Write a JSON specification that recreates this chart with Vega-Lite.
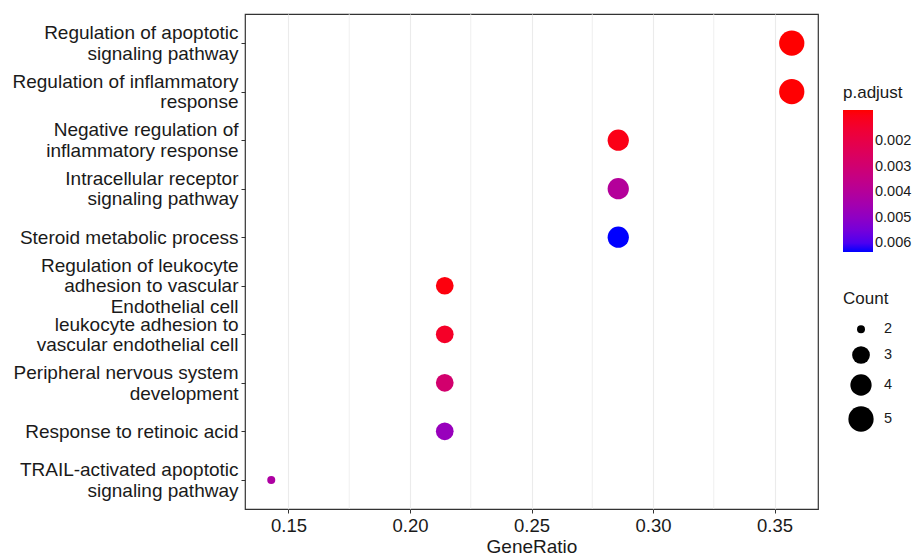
{
  "$schema": "https://vega.github.io/schema/vega-lite/v6.json",
  "autosize": {"type": "none"},
  "width": 573,
  "height": 495,
  "padding": {"left": 245, "top": 14, "right": 102, "bottom": 51},
  "background": "white",
  "config": {
    "font": "Liberation Sans",
    "view": {"stroke": "#333333", "strokeWidth": 1.2},
    "axis": {"gridColor": "#EBEBEB", "gridWidth": 1.1, "domain": false, "tickColor": "#333333", "tickSize": 4, "labelColor": "#1A1A1A", "titleColor": "#1A1A1A", "titleFontWeight": "normal"},
    "legend": {"titleFontWeight": "normal", "titleColor": "#1A1A1A", "labelColor": "#1A1A1A"}
  },
  "data": {"values": [
    {"Description": "Regulation of apoptotic\nsignaling pathway", "GeneRatio": 0.3571, "Count": 5, "padjust": 0.00078},
    {"Description": "Regulation of inflammatory\nresponse", "GeneRatio": 0.3571, "Count": 5, "padjust": 0.0008},
    {"Description": "Negative regulation of\ninflammatory response", "GeneRatio": 0.2857, "Count": 4, "padjust": 0.001},
    {"Description": "Intracellular receptor\nsignaling pathway", "GeneRatio": 0.2857, "Count": 4, "padjust": 0.004},
    {"Description": "Steroid metabolic process", "GeneRatio": 0.2857, "Count": 4, "padjust": 0.00635},
    {"Description": "Regulation of leukocyte\nadhesion to vascular\nEndothelial cell", "GeneRatio": 0.2143, "Count": 3, "padjust": 0.0009},
    {"Description": "leukocyte adhesion to\nvascular endothelial cell", "GeneRatio": 0.2143, "Count": 3, "padjust": 0.0013},
    {"Description": "Peripheral nervous system\ndevelopment", "GeneRatio": 0.2143, "Count": 3, "padjust": 0.0029},
    {"Description": "Response to retinoic acid", "GeneRatio": 0.2143, "Count": 3, "padjust": 0.0048},
    {"Description": "TRAIL-activated apoptotic\nsignaling pathway", "GeneRatio": 0.1429, "Count": 2, "padjust": 0.0042}
  ]},
  "layer": [
    {
      "data": {"values": [{"minor": 0.175}, {"minor": 0.225}, {"minor": 0.275}, {"minor": 0.325}]},
      "mark": {"type": "rule", "color": "#EBEBEB", "strokeWidth": 0.8},
      "encoding": {"x": {"field": "minor", "type": "quantitative"}}
    },
    {
      "mark": {"type": "circle", "opacity": 1},
      "encoding": {
        "x": {
          "field": "GeneRatio", "type": "quantitative",
          "scale": {"domain": [0.1321, 0.3679], "nice": false, "zero": false},
          "axis": {"values": [0.15, 0.2, 0.25, 0.3, 0.35], "format": ".2f", "title": "GeneRatio", "labelFontSize": 18.5, "titleFontSize": 19, "labelPadding": 3, "titlePadding": 3}
        },
        "y": {
          "field": "Description", "type": "nominal", "sort": null,
          "scale": {"type": "point", "padding": 0.6},
          "axis": {
            "title": null, "labelFontSize": 19, "labelLineHeight": 20.5,
            "labelExpr": "split(datum.label, '\\n')", "labelPadding": 3, "labelLimit": 300,
            "labelOffset": {
              "condition": [
                {"test": "length(split(datum.value, '\\n')) == 3", "value": -20.5},
                {"test": "length(split(datum.value, '\\n')) == 2", "value": -10.25}
              ],
              "value": 0
            }
          }
        },
        "color": {
          "field": "padjust", "type": "quantitative",
          "scale": {"domain": [0.00635, 0.00078], "range": ["#0000FF", "#FF0000"], "interpolate": "lab", "nice": false, "zero": false},
          "legend": {"title": "p.adjust", "orient": "none", "legendX": 598, "legendY": 71, "gradientLength": 142, "gradientThickness": 30, "values": [0.002, 0.003, 0.004, 0.005, 0.006], "format": ".3f", "titleFontSize": 17, "labelFontSize": 14.5, "gradientStrokeWidth": 0, "titlePadding": 8}
        },
        "size": {
          "field": "Count", "type": "quantitative",
          "scale": {"domain": [2, 3, 4, 5], "range": [64, 314, 452, 638]},
          "legend": {"title": "Count", "orient": "none", "legendX": 598, "legendY": 277, "values": [2, 3, 4, 5], "format": "d", "symbolFillColor": "black", "symbolStrokeWidth": 0, "titleFontSize": 17, "labelFontSize": 14.5, "rowPadding": 10, "titlePadding": 14, "symbolOffset": 5, "labelOffset": 10}
        }
      }
    }
  ]
}
